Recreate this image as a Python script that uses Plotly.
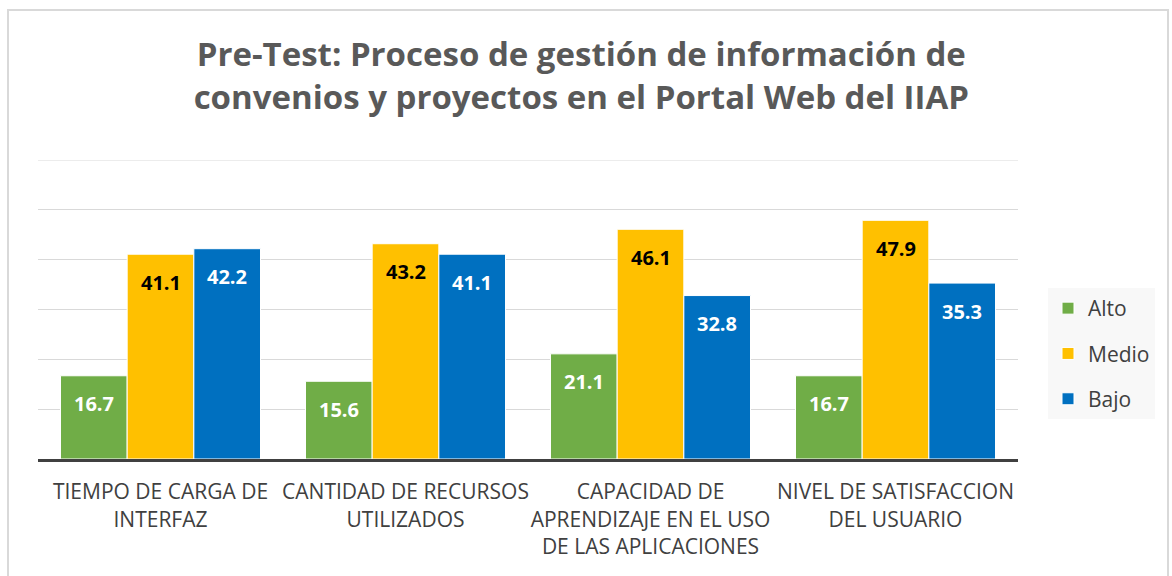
import plotly.graph_objects as go

categories = ["TIEMPO DE CARGA DE<br>INTERFAZ", "CANTIDAD DE RECURSOS<br>UTILIZADOS",
              "CAPACIDAD DE<br>APRENDIZAJE EN EL USO<br>DE LAS APLICACIONES",
              "NIVEL DE SATISFACCION<br>DEL USUARIO"]
alto = [16.7, 15.6, 21.1, 16.7]
medio = [41.1, 43.2, 46.1, 47.9]
bajo = [42.2, 41.1, 32.8, 35.3]
series_names = ["Alto", "Medio", "Bajo"]
colors = ["#70AD47", "#FFC000", "#0070C0"]
label_colors = ["white", "black", "white"]
y_max = 60

W, H = 1172, 576
ml, mr, mt, mb = 38, 154, 160, 117
pw, ph = W - ml - mr, H - mt - mb

fig = go.Figure()
all_series = [alto, medio, bajo]
for i, (name, vals, col) in enumerate(zip(series_names, all_series, colors)):
    fig.add_trace(go.Bar(
        x=categories, y=vals, name=name, marker=dict(color=col, line=dict(color="white", width=1)),
        legendgroup=name,
    ))

bargap = 45 / 245
group_w = (1 - bargap) * pw / len(categories)
bar_w = group_w / 3
for i, (vals, tc) in enumerate(zip(all_series, label_colors)):
    for c, v in zip(categories, vals):
        fig.add_annotation(x=c, y=v, text=f"<b>{v}</b>", showarrow=False,
                           xshift=(i - 1) * bar_w, yshift=-28, yanchor="middle",
                           font=dict(family="Open Sans", size=20, color=tc))

fig.add_shape(type="rect", xref="paper", yref="paper",
              x0=(8 - ml) / pw, x1=(1168 - ml) / pw,
              y0=(H - mb - 620) / ph, y1=(H - mb - 10) / ph,
              line=dict(color="#D9D9D9", width=2), fillcolor="rgba(0,0,0,0)", layer="below")
# top gridline at the axis maximum
fig.add_shape(type="line", xref="paper", yref="y", x0=0, x1=1, y0=y_max, y1=y_max,
              line=dict(color="#D9D9D9", width=1), layer="below")

fig.update_layout(
    width=W, height=H,
    margin=dict(l=ml, r=mr, t=mt, b=mb, autoexpand=False),
    paper_bgcolor="white", plot_bgcolor="white",
    barmode="group", bargap=bargap, bargroupgap=0,
    title=dict(text="<b>Pre-Test: Proceso de gestión de información de<br>convenios y proyectos en el Portal Web del IIAP</b>",
               x=0.496, xanchor="center", y=1 - 66 / H, yanchor="middle", xref="container", yref="container",
               font=dict(family="Open Sans", size=33, color="#595959")),
    xaxis=dict(showline=True, linecolor="#404040", linewidth=3, ticks="", automargin=False,
               ticklabelstandoff=12, tickangle=0,
               tickfont=dict(family="Open Sans", size=21, color="#404040")),
    yaxis=dict(range=[0, y_max], dtick=10, showticklabels=False, gridcolor="#D9D9D9", gridwidth=1,
               zeroline=False, automargin=False),
    legend=dict(x=(1048 - ml) / pw, xanchor="left", y=(H - mb - 288) / ph, yanchor="top",
                bgcolor="#F8F8F8", font=dict(family="Open Sans", size=21, color="#404040"),
                tracegroupgap=15, itemwidth=30),
    showlegend=True,
)

fig.write_html("out.html", config={"displayModeBar": False},
               post_script="document.body.style.margin='0';document.body.style.overflow='hidden';")
